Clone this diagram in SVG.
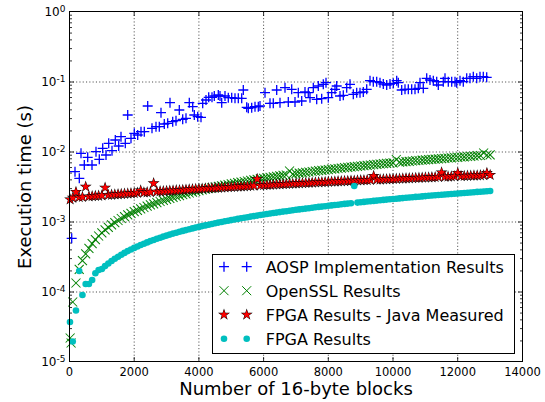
<svg xmlns="http://www.w3.org/2000/svg" xmlns:xlink="http://www.w3.org/1999/xlink" width="545" height="402" viewBox="0 0 545 402">
<style>
text{font-family:"DejaVu Sans","Liberation Sans",sans-serif;fill:#000}
.xt{font-size:11.5px;text-anchor:middle}
.yt{font-size:12px;text-anchor:end}
.sup{font-size:9px}
.lab{font-size:18px;text-anchor:middle}
.leg{font-size:16px}
.grid{stroke:#000;stroke-width:0.7;stroke-dasharray:1.1 2.2;fill:none}
.tk{stroke:#000;stroke-width:0.8;fill:none}
.series{fill:none;stroke:none}
</style>
<defs>
<marker id="mP" markerUnits="userSpaceOnUse" markerWidth="20" markerHeight="20" refX="10" refY="10" overflow="visible" orient="0">
<path d="M5,10h10M10,5v10" stroke="#0000ff" stroke-width="1.3" fill="none"/>
</marker>
<marker id="mX" markerUnits="userSpaceOnUse" markerWidth="20" markerHeight="20" refX="10" refY="10" overflow="visible" orient="0">
<path d="M8.720,5.146L11.499,14.146L11.280,14.854L8.501,5.854Z" fill="#008000"/>
<path d="M11.280,5.146L8.501,14.146L8.720,14.854L11.499,5.854Z" fill="#008000"/>
</marker>
<marker id="mS" markerUnits="userSpaceOnUse" markerWidth="20" markerHeight="20" refX="10" refY="10" overflow="visible" orient="0">
<polygon points="10,3.7 10.437,8.053 11.850,8.053 10.706,10.743 11.143,15.097 10,12.41 8.857,15.097 9.294,10.743 8.150,8.053 9.563,8.053" fill="#000"/>
<polygon points="10,5 10.347,8.455 11.468,8.455 10.561,10.590 10.907,14.045 10,11.91 9.093,14.045 9.439,10.590 8.532,8.455 9.653,8.455" fill="#ff0000"/>
</marker>
<marker id="mC" markerUnits="userSpaceOnUse" markerWidth="20" markerHeight="20" refX="10" refY="10" overflow="visible" orient="0">
<ellipse cx="10" cy="10" rx="1.02" ry="3.3" fill="#00bfbf"/>
</marker>
<g id="lp"><path d="M-5,0h10M0,-5v10" stroke="#0000ff" stroke-width="1.3" fill="none"/></g>
<g id="lx"><path d="M-4.5,-4.5L4.5,4.5M4.5,-4.5L-4.5,4.5" stroke="#008000" stroke-width="1" fill="none"/></g>
<g id="ls"><polygon points="0,-6.3 1.415,-1.947 5.991,-1.947 2.288,0.743 3.703,5.097 0,2.41 -3.703,5.097 -2.288,0.743 -5.991,-1.947 -1.415,-1.947" fill="#000"/><polygon points="0,-5 1.123,-1.545 4.755,-1.545 1.816,0.590 2.939,4.045 0,1.91 -2.939,4.045 -1.816,0.590 -4.755,-1.545 -1.123,-1.545" fill="#ff0000"/></g>
<g id="lc"><circle r="3.3" fill="#00bfbf"/></g>
<path id="dec" d="M69.5,340.93h2.5M69.5,328.6h2.5M69.5,319.86h2.5M69.5,313.07h2.5M69.5,307.53h2.5M69.5,302.84h2.5M69.5,298.79h2.5M69.5,295.2h2.5"/>
</defs>
<rect x="0" y="0" width="545" height="402" fill="#fff"/>
<g id="axes">
<g id="grid" class="grid">
<path d="M134.2,11.5V361.5M198.9,11.5V361.5M263.6,11.5V361.5M328.3,11.5V361.5M393,11.5V361.5M457.7,11.5V361.5"/>
<path d="M69.5,82H522.5M69.5,152H522.5M69.5,222H522.5M69.5,292H522.5"/>
</g>
<g id="ticks" class="tk">
<g id="lt">
<use href="#dec"/>
<use href="#dec" transform="translate(0,-70)"/>
<use href="#dec" transform="translate(0,-140)"/>
<use href="#dec" transform="translate(0,-210)"/>
<use href="#dec" transform="translate(0,-280)"/>
<path d="M69.5,82h4.5M69.5,152h4.5M69.5,222h4.5M69.5,292h4.5"/>
</g>
<use href="#lt" transform="matrix(-1 0 0 1 592 0)"/>
<path d="M134.2,361.5v-4.5M198.9,361.5v-4.5M263.6,361.5v-4.5M328.3,361.5v-4.5M393,361.5v-4.5M457.7,361.5v-4.5M134.2,11.5v4.5M198.9,11.5v4.5M263.6,11.5v4.5M328.3,11.5v4.5M393,11.5v4.5M457.7,11.5v4.5"/>
</g>
</g>
<g id="connectors">
<polyline id="aosp" class="series" marker-start="url(#mP)" marker-mid="url(#mP)" marker-end="url(#mP)" points="71.7,238.3 75,171.7 79.3,178.3 81,153.3 84.3,165 87.7,157.3 92,165 96,151.7 99.3,159.3 102.7,148.3 106,155 108.7,143.3 112,150.7 115.3,140 118.7,146 121,136.7 125.3,143.3 127.7,115 131,138.3 134.3,133.3 137.7,135 141,131.7 144.3,131.7 147.7,106 152,128.3 156,126.7 159.3,126.7 161,112.7 164.3,124 167.7,123.3 170,102.7 172.7,121.7 176,120.7 179.3,110 182.7,119.3 186,118.3 189.3,102.7 192.7,106.7 194.3,115 197.7,116.7 201,117.3 202.7,103.3 206,100 208.7,97.3 212,97.3 214.3,96 218.3,95 220,96 221.7,102.7 225,96 228.3,97.7 231.7,97.7 235,98.3 238.3,98.3 241.7,98.3 243.3,90 246.7,107.3 248.3,108.3 251.7,107.7 255,106.7 258.3,106.7 260,106 265,92.7 270,103.3 273.3,103.3 276.7,90 280,102.7 285,87.7 288.3,102 291.7,89.3 295,102 298.3,92.7 301.7,101 305,92 308.3,92.7 310,97.7 313.3,87.7 316.7,99.3 318.3,86 321.7,98.7 323.3,84.3 326,82.7 328.3,97.7 331.7,92.7 335,89.3 336.7,86 340,96 343.3,95.3 346.7,87.7 350,84.3 353.3,94.3 356.7,92.7 360,92.7 363.3,92 366.7,89.3 370,80.7 373.3,81.7 376.7,81.7 380,82.7 383.3,84 386.7,85 390,84 393.3,83.3 396.7,80.7 398.3,82.7 401.7,90 405,89.3 408.3,89.3 411.7,89.3 415,89.3 418.3,88.3 420,82.7 423.3,88.3 426.7,78.3 430,80 433.3,80.7 436.7,81.7 438.3,85 443.3,81.7 445,78.3 448.3,81.7 451.7,81.7 455,81.7 456.7,82.7 460,80.7 463.3,81.7 466.7,78.3 470,78.3 473.3,76.7 476.7,78.3 480,76.7 483.3,76.7 486.7,77.3"/>
<g transform="translate(69.5,0) scale(3.2357,1)">
<polyline id="openssl" class="series" marker-start="url(#mX)" marker-mid="url(#mX)" marker-end="url(#mX)" points="0.2,338 0.5,343 1,302 2,283 3,269.4 4,260.7 5,253.9 6,248.3 7,243.6 8,239.6 9,236 10,232.8 11,229.9 12,227.3 13,224.8 14,222.6 15,220.5 16,218.5 17,216.7 18,214.9 19,213.3 20,211.7 21,210.3 22,208.8 23,207.5 24,206.2 25,204.9 26,203.8 27,202.6 28,201.5 29,200.4 30,199.4 31,198.4 32,197.4 33,196.5 34,195.6 35,194.7 36,193.9 37,193 38,192.2 39,191.4 40,190.7 41,189.9 42,189.2 43,188.5 44,187.8 45,187.1 46,186.4 47,185.8 48,185.1 49,184.5 50,183.9 51,183.3 52,182.7 53,182.1 54,181.5 55,181 56,180.4 57,179.9 58,179.4 59,178.8 60,178.3 61,177.8 62,177.3 63,176.8 64,176.4 65,175.9 66,175.4 67,175 68,171 69,174.1 70,173.6 71,173.2 72,172.8 73,172.4 74,172 75,171.5 76,171.1 77,170.7 78,170.4 79,170 80,169.6 81,169.2 82,168.8 83,168.5 84,168.1 85,167.7 86,167.4 87,167 88,166.7 89,166.4 90,166 91,165.7 92,165.3 93,165 94,164.7 95,164.4 96,164 97,163.7 98,163.4 99,163.1 100,162.8 101,159.5 102,162.2 103,161.9 104,161.6 105,161.3 106,161 107,160.7 108,160.5 109,160.2 110,159.9 111,159.6 112,159.3 113,159.1 114,158.8 115,158.6 116,158.3 117,158 118,157.8 119,157.5 120,157.3 121,157 122,156.8 123,156.5 124,156.3 125,156 126,155.7 127,155.5 128,153 129,155 130,154.8"/>
<polyline id="fpgajava" class="series" marker-start="url(#mS)" marker-mid="url(#mS)" marker-end="url(#mS)" points="0.2,199.5 1,197.8 2,192 3,197.2 4,197 5,186.7 6,196.5 7,196.2 8,196 9,195.8 10,195.5 11,187.7 12,195 13,194.8 14,194.5 15,194.3 16,194.1 17,193.8 18,193.6 19,193.3 20,193.1 21,192.9 22,190.5 23,192.5 24,192.3 25,192.1 26,183.3 27,191.6 28,191.4 29,191.2 30,191 31,190.8 32,190.6 33,190.4 34,190.2 35,190 36,189.7 37,189.5 38,189.3 39,189.1 40,188.9 41,188.7 42,188.5 43,188.3 44,188.1 45,188 46,187.8 47,187.6 48,187.4 49,187.2 50,187 51,186.8 52,186.6 53,186.5 54,186.3 55,186.1 56,185.9 57,185.7 58,179 59,185.4 60,185.2 61,185 62,184.9 63,184.7 64,184.5 65,184.4 66,184.2 67,184 68,183.8 69,183.7 70,183.5 71,183.3 72,183.2 73,183 74,182.9 75,182.7 76,182.5 77,182.4 78,182.2 79,182.1 80,181.9 81,181.7 82,181.6 83,181.4 84,181.3 85,181.1 86,181 87,180.8 88,180.7 89,180.5 90,180.4 91,180.2 92,180.1 93,180 94,176 95,179.7 96,179.6 97,179.4 98,179.3 99,179.1 100,179 101,178.9 102,178.7 103,178.6 104,178.4 105,178.3 106,178.2 107,178 108,177.9 109,177.7 110,177.6 111,177.5 112,177.3 113,177.2 114,177 115,172.5 116,176.8 117,176.6 118,176.5 119,176.3 120,173 121,176.1 122,176 123,175.8 124,175.7 125,175.6 126,175.5 127,175.4 128,175.2 129,173 130,175"/>
<polyline id="fpga" class="series" marker-start="url(#mC)" marker-mid="url(#mC)" marker-end="url(#mC)" points="0.15,322 1,341.5 2,310.5 3,271 4,295 5,284 6,284 7,280 8,273.3 9,270 10,269 11,266.1 12,263.5 13,261 14,258.8 15,256.7 16,254.7 17,252.9 18,251.1 19,249.5 20,247.9 21,246.5 22,245 23,243.7 24,242.4 25,241.1 26,240 27,238.8 28,237.7 29,236.6 30,235.6 31,234.6 32,233.6 33,232.7 34,231.8 35,230.9 36,230.1 37,229.2 38,228.4 39,227.6 40,226.9 41,226.1 42,225.4 43,224.7 44,224 45,223.3 46,222.6 47,222 48,221.3 49,220.7 50,220.1 51,219.5 52,218.9 53,218.3 54,217.7 55,217.2 56,216.6 57,216.1 58,215.6 59,215 60,214.5 61,214 62,213.5 63,213 64,212.6 65,212.1 66,211.6 67,211.2 68,210.7 69,210.3 70,209.8 71,209.4 72,209 73,208.6 74,208.2 75,207.7 76,207.3 77,206.9 78,206.6 79,206.2 80,205.8 81,205.4 82,205 83,204.7 84,204.3 85,203.9 86,203.6 87,203.2 88,186 89,202.6 90,202.2 91,201.9 92,201.5 93,201.2 94,200.9 95,200.6 96,200.2 97,199.9 98,199.6 99,199.3 100,199 101,198.7 102,198.4 103,198.1 104,197.8 105,197.5 106,197.2 107,196.9 108,196.7 109,196.4 110,196.1 111,195.8 112,195.5 113,195.3 114,195 115,194.8 116,194.5 117,194.2 118,194 119,193.7 120,193.5 121,193.2 122,193 123,192.7 124,192.5 125,192.2 126,191.9 127,191.7 128,191.5 129,191.2 130,191"/>
</g>
</g>
<rect id="frame" x="69.5" y="11.5" width="453" height="350" fill="none" stroke="#000" stroke-width="1"/>
<g id="xticklabels">
<text class="xt" x="69.5" y="376">0</text>
<text class="xt" x="134.2" y="376">2000</text>
<text class="xt" x="198.9" y="376">4000</text>
<text class="xt" x="263.6" y="376">6000</text>
<text class="xt" x="328.3" y="376">8000</text>
<text class="xt" x="393" y="376">10000</text>
<text class="xt" x="457.7" y="376">12000</text>
<text class="xt" x="522.5" y="376">14000</text>
</g>
<g id="yticklabels">
<text class="yt" x="65.5" y="16">10<tspan class="sup" dy="-4.5">0</tspan></text>
<text class="yt" x="65.5" y="86">10<tspan class="sup" dy="-4.5">-1</tspan></text>
<text class="yt" x="65.5" y="156">10<tspan class="sup" dy="-4.5">-2</tspan></text>
<text class="yt" x="65.5" y="226">10<tspan class="sup" dy="-4.5">-3</tspan></text>
<text class="yt" x="65.5" y="296">10<tspan class="sup" dy="-4.5">-4</tspan></text>
<text class="yt" x="65.5" y="366">10<tspan class="sup" dy="-4.5">-5</tspan></text>
</g>
<text id="xlabel" class="lab" x="296" y="395">Number of 16-byte blocks</text>
<text id="ylabel" class="lab" transform="translate(31,187) rotate(-90)">Execution time (s)</text>
<g id="legend">
<rect x="212.5" y="254.5" width="302" height="99" fill="#fff" stroke="#000" stroke-width="1"/>
<use href="#lp" x="224" y="266.7"/><use href="#lp" x="246.7" y="266.7"/>
<text class="leg" x="265.7" y="272.7">AOSP Implementation Results</text>
<use href="#lx" x="224" y="290.7"/><use href="#lx" x="246.7" y="290.7"/>
<text class="leg" x="265.7" y="296.7">OpenSSL Results</text>
<use href="#ls" x="224" y="314.7"/><use href="#ls" x="246.7" y="314.7"/>
<text class="leg" x="265.7" y="320.7">FPGA Results - Java Measured</text>
<use href="#lc" x="224" y="338.7"/><use href="#lc" x="246.7" y="338.7"/>
<text class="leg" x="265.7" y="344.7">FPGA Results</text>
</g>
</svg>
